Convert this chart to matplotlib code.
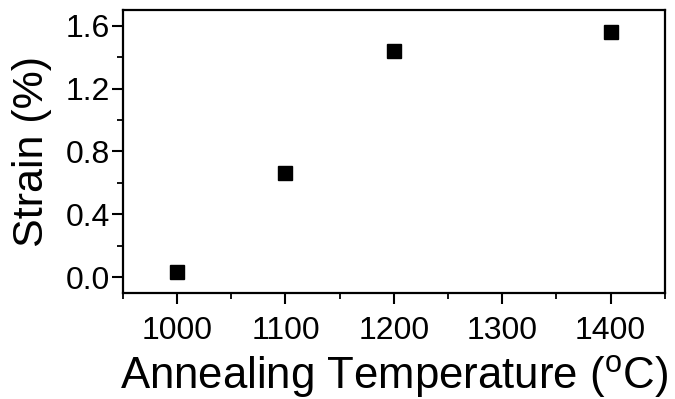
import matplotlib
matplotlib.use('Agg')
import matplotlib.pyplot as plt
from matplotlib.ticker import MultipleLocator

plt.rcParams['font.family'] = 'Liberation Sans'
plt.rcParams['mathtext.fontset'] = 'custom'
plt.rcParams['mathtext.rm'] = 'Liberation Sans'

# annealing temperature (C) vs strain (%)
temperature = [1000, 1100, 1200, 1400]
strain = [0.03, 0.66, 1.44, 1.56]

fig = plt.figure(figsize=(6.75, 3.99), dpi=100)
ax = fig.add_axes([0.182, 0.266, 0.803, 0.709])

ax.plot(temperature, strain, linestyle='none', marker='s', markersize=9.5, color='black')

ax.set_xlim(950, 1450)
ax.set_ylim(-0.1, 1.7)
ax.xaxis.set_major_locator(MultipleLocator(100))
ax.xaxis.set_minor_locator(MultipleLocator(50))
ax.yaxis.set_major_locator(MultipleLocator(0.4))
ax.yaxis.set_minor_locator(MultipleLocator(0.2))
ax.yaxis.set_major_formatter(plt.FormatStrFormatter('%.1f'))

ax.tick_params(which='major', direction='out', length=8, width=1.5, labelsize=23)
ax.tick_params(which='minor', direction='out', length=4.5, width=1.3)
ax.tick_params(axis='x', pad=9)
ax.tick_params(axis='y', pad=1)
for s in ax.spines.values():
    s.set_linewidth(1.6)

ax.set_xlabel(r'Annealing Temperature ($^{\rm o}$C)', fontsize=31.5, labelpad=5)
ax.set_ylabel('Strain (%)', fontsize=31, labelpad=10)

fig.savefig('out.png', dpi=100)
